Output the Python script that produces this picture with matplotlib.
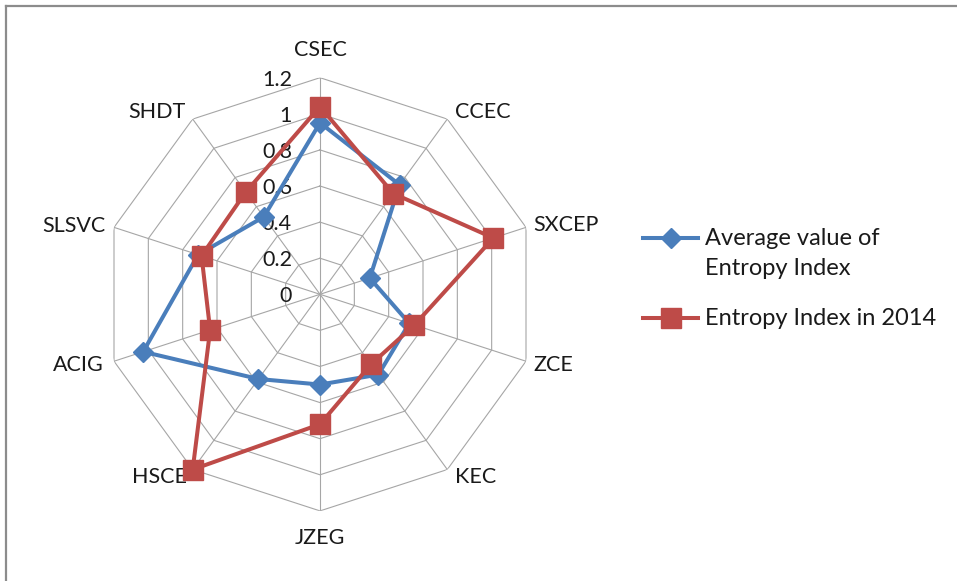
import numpy as np
import matplotlib
matplotlib.use("Agg")
import matplotlib.pyplot as plt
from matplotlib.lines import Line2D

plt.rcParams['font.family'] = ['Lato', 'DejaVu Sans']

# Entropy index per exchange / enterprise
categories = ["CSEC", "CCEC", "SXCEP", "ZCE", "KEC", "JZEG",
              "HSCE", "ACIG", "SLSVC", "SHDT"]
avg_entropy = [0.95, 0.75, 0.29, 0.52, 0.55, 0.50, 0.58, 1.03, 0.71, 0.53]
entropy_2014 = [1.04, 0.69, 1.01, 0.55, 0.48, 0.72, 1.20, 0.64, 0.69, 0.70]
r_ticks = [0, 0.2, 0.4, 0.6, 0.8, 1.0, 1.2]
r_tick_labels = ["0", "0.2", "0.4", "0.6", "0.8", "1", "1.2"]
series_names = ["Average value of\nEntropy Index", "Entropy Index in 2014"]

BLUE = "#4A7EBB"
RED = "#BE4B48"
GRID = "#A6A6A6"
TEXT = "#1a1a1a"
FS = 15.5
LEG_FS = 17

W, H, DPI = 957, 581, 100
fig = plt.figure(figsize=(W / DPI, H / DPI), dpi=DPI)
fig.patch.set_facecolor("white")

# polar axes: centre (320, 294) px, outer ring radius ~217 px
cx, cy, R = 320.0, 294.3, 216.6
ax = fig.add_axes([(cx - R) / W, (H - cy - R) / H, 2 * R / W, 2 * R / H],
                  projection="polar")
ax.set_theta_offset(np.pi / 2)
ax.set_theta_direction(-1)
ax.set_ylim(0, r_ticks[-1])
ax.grid(False)
ax.spines["polar"].set_visible(False)
ax.set_xticks([])
ax.set_yticks([])
ax.patch.set_alpha(0)

n = len(categories)
theta = np.arange(n) * 2 * np.pi / n
theta_closed = np.append(theta, theta[0])

# decagon rings and spokes
for r in r_ticks[1:]:
    ax.plot(theta_closed, [r] * (n + 1), color=GRID, lw=0.8, zorder=1)
for t in theta:
    ax.plot([t, t], [0, r_ticks[-1]], color=GRID, lw=0.8, zorder=1)

# radial value labels, left of the vertical spoke
for r, lab in zip(r_ticks, r_tick_labels):
    ax.annotate(lab, xy=(0, r), xytext=(-28, -2), textcoords="offset pixels",
                ha="right", va="center", fontsize=FS, color=TEXT, zorder=2)

# category labels outside each vertex
label_offsets = {
    "CSEC": (0, 28, "center"), "CCEC": (8, 7, "left"), "SXCEP": (7, 2, "left"),
    "ZCE": (7, -4, "left"), "KEC": (8, -7, "left"), "JZEG": (0, -27, "center"),
    "HSCE": (-6, -7, "right"), "ACIG": (-10, -4, "right"),
    "SLSVC": (-8, 1, "right"), "SHDT": (-7, 7, "right"),
}
for t, name in zip(theta, categories):
    dx, dy, ha = label_offsets[name]
    ax.annotate(name, xy=(t, r_ticks[-1]), xytext=(dx, dy),
                textcoords="offset pixels", ha=ha, va="center",
                fontsize=FS, color=TEXT, annotation_clip=False)

blue_style = dict(color=BLUE, lw=2.9, marker="D", markersize=10)
red_style = dict(color=RED, lw=2.9, marker="s", markersize=14.5)

ax.plot(theta_closed, avg_entropy + avg_entropy[:1], markevery=range(n),
        zorder=3, clip_on=False, **blue_style)
ax.plot(theta_closed, entropy_2014 + entropy_2014[:1], markevery=range(n),
        zorder=4, clip_on=False, **red_style)

# legend keys and labels (pixel positions converted to figure fraction)
def fx(px):
    return px / W

def fy(py):
    return 1 - py / H

for style, ykey, name in [(blue_style, 237.7, series_names[0]),
                          (red_style, 318.3, series_names[1])]:
    fig.add_artist(Line2D([fx(643), fx(698)], [fy(ykey)] * 2,
                          transform=fig.transFigure,
                          color=style["color"], lw=style["lw"]))
    fig.add_artist(Line2D([fx(670.5)], [fy(ykey)], transform=fig.transFigure,
                          color=style["color"], marker=style["marker"],
                          markersize=style["markersize"], lw=0))
    fig.text(fx(705), fy(ykey - 10), name, ha="left", va="top",
             fontsize=LEG_FS, color=TEXT, linespacing=1.55)

# chart frame (top and left edges)
frame_kw = dict(color="#8C8C8C", lw=1.6, transform=fig.transFigure)
fig.add_artist(Line2D([5.5 / W, 1], [1 - 6 / H, 1 - 6 / H], **frame_kw))
fig.add_artist(Line2D([6 / W, 6 / W], [0, 1 - 5.5 / H], **frame_kw))

fig.savefig("out.png", dpi=DPI)
